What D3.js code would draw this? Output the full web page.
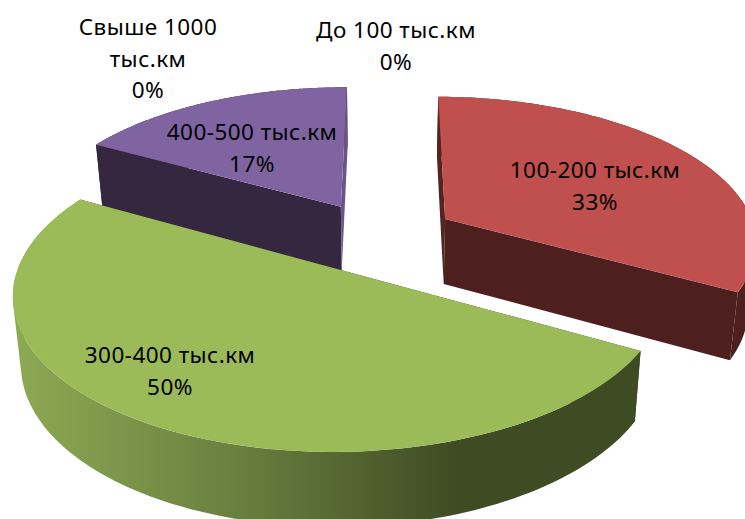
<!DOCTYPE html>
<html lang="ru">
<head>
<meta charset="utf-8">
<script src="https://cdn.jsdelivr.net/npm/d3@7"></script>
<style>
  html, body { margin: 0; padding: 0; background: #fff; overflow: hidden; }
  svg { display: block; }
  text { font-family: "Noto Sans", "Open Sans", sans-serif; font-size: 22.5px; letter-spacing: 0.45px; fill: #000; text-anchor: middle; }
</style>
</head>
<body>
<script>
// Mileage distribution shown as an exploded 3D pie.
const categories = ["До 100 тыс.км", "100-200 тыс.км", "300-400 тыс.км", "400-500 тыс.км", "Свыше 1000 тыс.км"];
const shares = [0, 33, 50, 17, 0];
const topColors = ["#4F81BD", "#C0504D", "#9BBB59", "#8064A2", "#4BACC6"];
const sideColors = ["#253D5B", "#4D1F1E", "#9BBB59", "#35273F", "#235A68"];

// Text lines per slice and where each block is centred.
const labelLines = [
  ["До 100 тыс.км", "0%"],
  ["100-200 тыс.км", "33%"],
  ["300-400 тыс.км", "50%"],
  ["400-500 тыс.км", "17%"],
  ["Свыше 1000", "тыс.км", "0%"]
];
const labelAnchors = [[396, 38], [595, 178], [170, 363], [252, 140], [148, 35]];
const lineStep = 31.5;

const width = 745, height = 519;
const cx = 379, cy = 237;       // screen position of the pie axis
const fx = 312, fy = 145;       // radius scale across and along the view
const persp = 0.146;            // perspective strength along the view
const explode = 0.25;           // slice offset as a fraction of the radius
const startDeg = 0.3;           // first slice angle

const svg = d3.select("body").append("svg")
  .attr("width", width).attr("height", height).attr("viewBox", [0, 0, width, height]);

// Ground plane to screen; level 0 is the top face, level 1 the bottom face.
function project(X, Y, level) {
  const w = 1 - persp * Y;
  const px = fx * X / w, py = fy * Y / w;
  const y0 = cy + py;
  if (!level) return [cx + px, y0];
  return [cx + px * 0.978, y0 + 55.5 + 0.043 * y0];
}

const pie = d3.pie().sort(null).value(d => d)
  .startAngle(startDeg * Math.PI / 180)
  .endAngle((startDeg + 360) * Math.PI / 180);

const slices = pie(shares).map((s, i) => {
  const mid = (s.startAngle + s.endAngle) / 2;
  return { ...s, i, ox: explode * Math.sin(mid), oy: -explode * Math.cos(mid) };
});

const ground = (s, a) => [s.ox + Math.sin(a), s.oy - Math.cos(a)];
const rimAngles = s => d3.range(0, 121).map(t => s.startAngle + (s.endAngle - s.startAngle) * t / 120);
const poly = pts => "M" + pts.map(p => p[0].toFixed(2) + "," + p[1].toFixed(2)).join("L") + "Z";

// The outer wall is a strip of quads, each wound the same way so the
// fold at the silhouette stays filled.
function wallPath(topArc, bottomArc) {
  return d3.range(topArc.length - 1).map(k => {
    const quad = [topArc[k], topArc[k + 1], bottomArc[k + 1], bottomArc[k]];
    if (d3.polygonArea(quad) < 0) quad.reverse();
    return poly(quad);
  }).join("");
}

// Green outer wall darkens from left to right.
const rimGrad = svg.append("defs").append("linearGradient")
  .attr("id", "rim-green").attr("gradientUnits", "userSpaceOnUse")
  .attr("x1", 11).attr("x2", 460).attr("y1", 0).attr("y2", 0);
rimGrad.append("stop").attr("offset", 0).attr("stop-color", "#8DAA53");
rimGrad.append("stop").attr("offset", 0.5).attr("stop-color", "#6A8040");
rimGrad.append("stop").attr("offset", 1).attr("stop-color", "#3E4B23");

// Cut faces: the one at the slice's start angle, then the one at its end angle.
const cutColors = {
  1: ["#57231F", "#4D1F1E"],
  2: ["#3E4B23", "#3E4B23"],
  3: ["#35273F", "#6B5488"]
};

// Far slices first so the near ones overlap them.
const drawOrder = [3, 1, 2];
const g = svg.append("g");

drawOrder.forEach(i => {
  const s = slices[i];
  const angles = rimAngles(s);
  const apexTop = project(s.ox, s.oy, 0);
  const apexBottom = project(s.ox, s.oy, 1);
  const topArc = angles.map(a => project(...ground(s, a), 0));
  const bottomArc = angles.map(a => project(...ground(s, a), 1));

  g.append("path").attr("class", "rim")
    .attr("fill", i === 2 ? "url(#rim-green)" : sideColors[i])
    .attr("d", wallPath(topArc, bottomArc));

  [[topArc[0], bottomArc[0]], [topArc[120], bottomArc[120]]].forEach(([t, b], side) => {
    g.append("path").attr("class", "cut").attr("fill", cutColors[i][side])
      .attr("d", poly([apexTop, t, b, apexBottom]));
  });

  g.append("path").attr("class", "top").attr("fill", topColors[i])
    .attr("d", poly([apexTop, ...topArc]));
});

// Data labels sit above all slices.
const labels = svg.append("g").selectAll("text").data(labelLines).join("text")
  .attr("transform", (d, i) => `translate(${labelAnchors[i][0]},${labelAnchors[i][1]})`);
labels.selectAll("tspan").data(d => d).join("tspan")
  .attr("x", 0).attr("y", (d, j) => j * lineStep).text(d => d);
</script>
</body>
</html>
